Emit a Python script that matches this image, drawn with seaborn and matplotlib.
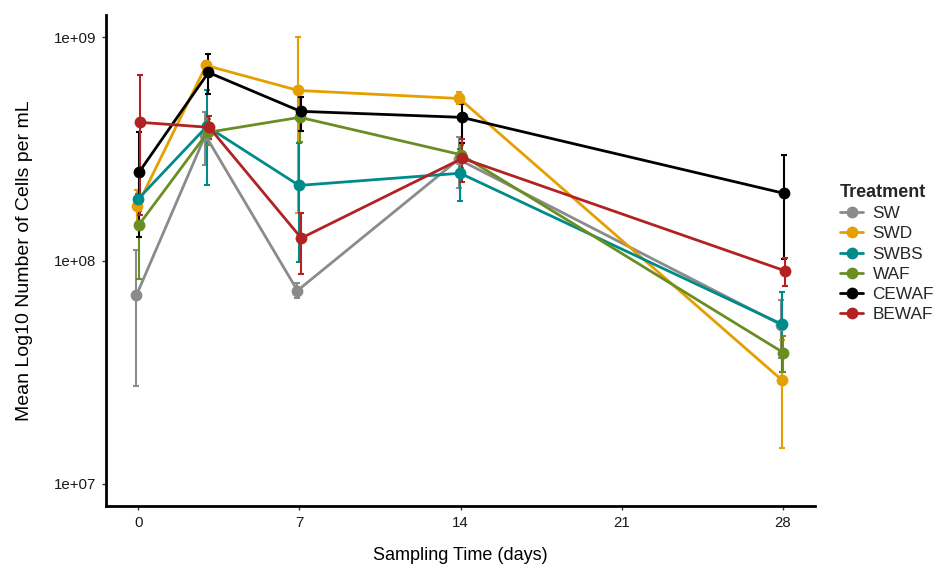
import numpy as np
import pandas as pd
import matplotlib
matplotlib.use("Agg")
import matplotlib.pyplot as plt
import matplotlib.ticker as mticker
import seaborn as sns

# ---- data ----
days = [0, 3, 7, 14, 28]
treatments = ["SW", "SWD", "SWBS", "WAF", "CEWAF", "BEWAF"]
colors = ["#8A8C8C", "#E69F00", "#008B8B", "#6B8E23", "#000000", "#B22222"]

sw_mean = [6.97e7, 3.64e8, 7.33e7, 2.84e8, 5.16e7]
sw_low = [2.75e7, 2.67e8, 6.82e7, 2.12e8, 3.67e7]
sw_high = [1.12e8, 4.61e8, 7.89e7, 3.56e8, 6.62e7]

swd_mean = [1.75e8, 7.48e8, 5.78e8, 5.32e8, 2.92e7]
swd_low = [1.45e8, 7.19e8, 1.63e8, 5.01e8, 1.44e7]
swd_high = [2.06e8, 7.80e8, 1.00e9, 5.66e8, 4.42e7]

swbs_mean = [1.88e8, 3.99e8, 2.17e8, 2.46e8, 5.17e7]
swbs_low = [1.69e8, 2.17e8, 9.80e7, 1.84e8, 3.15e7]
swbs_high = [1.98e8, 5.78e8, 3.35e8, 3.15e8, 7.19e7]

waf_mean = [1.44e8, 3.75e8, 4.38e8, 2.98e8, 3.87e7]
waf_low = [8.30e7, 3.30e8, 3.38e8, 2.60e8, 3.15e7]
waf_high = [1.66e8, 4.30e8, 5.43e8, 3.30e8, 4.61e7]

cewaf_mean = [2.50e8, 6.96e8, 4.66e8, 4.38e8, 2.00e8]
cewaf_low = [1.27e8, 5.55e8, 3.79e8, 3.35e8, 1.02e8]
cewaf_high = [3.75e8, 8.40e8, 5.43e8, 5.01e8, 2.96e8]

bewaf_mean = [4.16e8, 3.95e8, 1.26e8, 2.87e8, 9.00e7]
bewaf_low = [1.60e8, 3.49e8, 8.66e7, 2.24e8, 7.72e7]
bewaf_high = [6.76e8, 4.43e8, 1.64e8, 3.49e8, 1.03e8]

x_ticks = [0, 7, 14, 21, 28]
y_ticks = [1e7, 1e8, 1e9]
y_tick_labels = ["1e+07", "1e+08", "1e+09"]

means = [sw_mean, swd_mean, swbs_mean, waf_mean, cewaf_mean, bewaf_mean]
lows = [sw_low, swd_low, swbs_low, waf_low, cewaf_low, bewaf_low]
highs = [sw_high, swd_high, swbs_high, waf_high, cewaf_high, bewaf_high]

# ---- build table with small dodge ----
dodge_width = 0.2
n = len(treatments)
rows = []
for i, t in enumerate(treatments):
    off = (i - (n - 1) / 2) * dodge_width / n
    for j, d in enumerate(days):
        rows.append({"Treatment": t, "day": d, "xd": d + off,
                     "mean": means[i][j], "low": lows[i][j], "high": highs[i][j]})
df = pd.DataFrame(rows)

sns.set_theme(style="ticks")
plt.rcParams["font.family"] = ["Liberation Sans", "DejaVu Sans"]

fig = plt.figure(figsize=(9.36, 5.66), dpi=100)
ax = fig.add_axes([106 / 936, 1 - 506 / 566, (815 - 106) / 936, (506 - 15) / 566])

palette = dict(zip(treatments, colors))

# error bars
for t in treatments:
    sub = df[df.Treatment == t]
    ax.errorbar(sub["xd"], sub["mean"],
                yerr=[sub["mean"] - sub["low"], sub["high"] - sub["mean"]],
                fmt="none", ecolor=palette[t], elinewidth=1.5, capsize=2,
                capthick=1.5, zorder=2)

sns.lineplot(data=df, x="xd", y="mean", hue="Treatment", hue_order=treatments,
             palette=palette, estimator=None, sort=True, linewidth=2.0,
             marker="o", markersize=8.5, markeredgewidth=0, ax=ax, zorder=3)

ax.set_yscale("log")
ax.set_ylim(10 ** 6.9, 10 ** 9.1)
ax.set_xlim(-1.4, 29.4)
ax.yaxis.set_major_locator(mticker.FixedLocator(y_ticks))
ax.yaxis.set_major_formatter(mticker.FixedFormatter(y_tick_labels))
ax.yaxis.set_minor_locator(mticker.NullLocator())
ax.set_xticks(x_ticks)
ax.set_xticklabels([str(v) for v in x_ticks])

for s in ["top", "right"]:
    ax.spines[s].set_visible(False)
for s in ["left", "bottom"]:
    ax.spines[s].set_linewidth(2.0)
    ax.spines[s].set_color("black")

ax.tick_params(axis="both", length=3, width=1, color="#333333",
               labelsize=10.8, labelcolor="#1a1a1a", pad=4)

ax.set_xlabel("Sampling Time (days)", fontsize=13, labelpad=12.5, color="black")
ax.set_ylabel("Mean Log10 Number of Cells per mL", fontsize=14, labelpad=15, color="black")

handles, labels = ax.get_legend_handles_labels()
ax.legend(handles=handles, labels=labels, title="Treatment",
          loc="upper left", bbox_to_anchor=(833 / 936, 1 - 177 / 566),
          bbox_transform=fig.transFigure, frameon=False, fontsize=12.4,
          title_fontproperties={"weight": "bold", "size": 13},
          handlelength=1.35, handletextpad=0.55, labelspacing=0.3,
          borderaxespad=0, alignment="left")

fig.savefig("out.png", dpi=100)
